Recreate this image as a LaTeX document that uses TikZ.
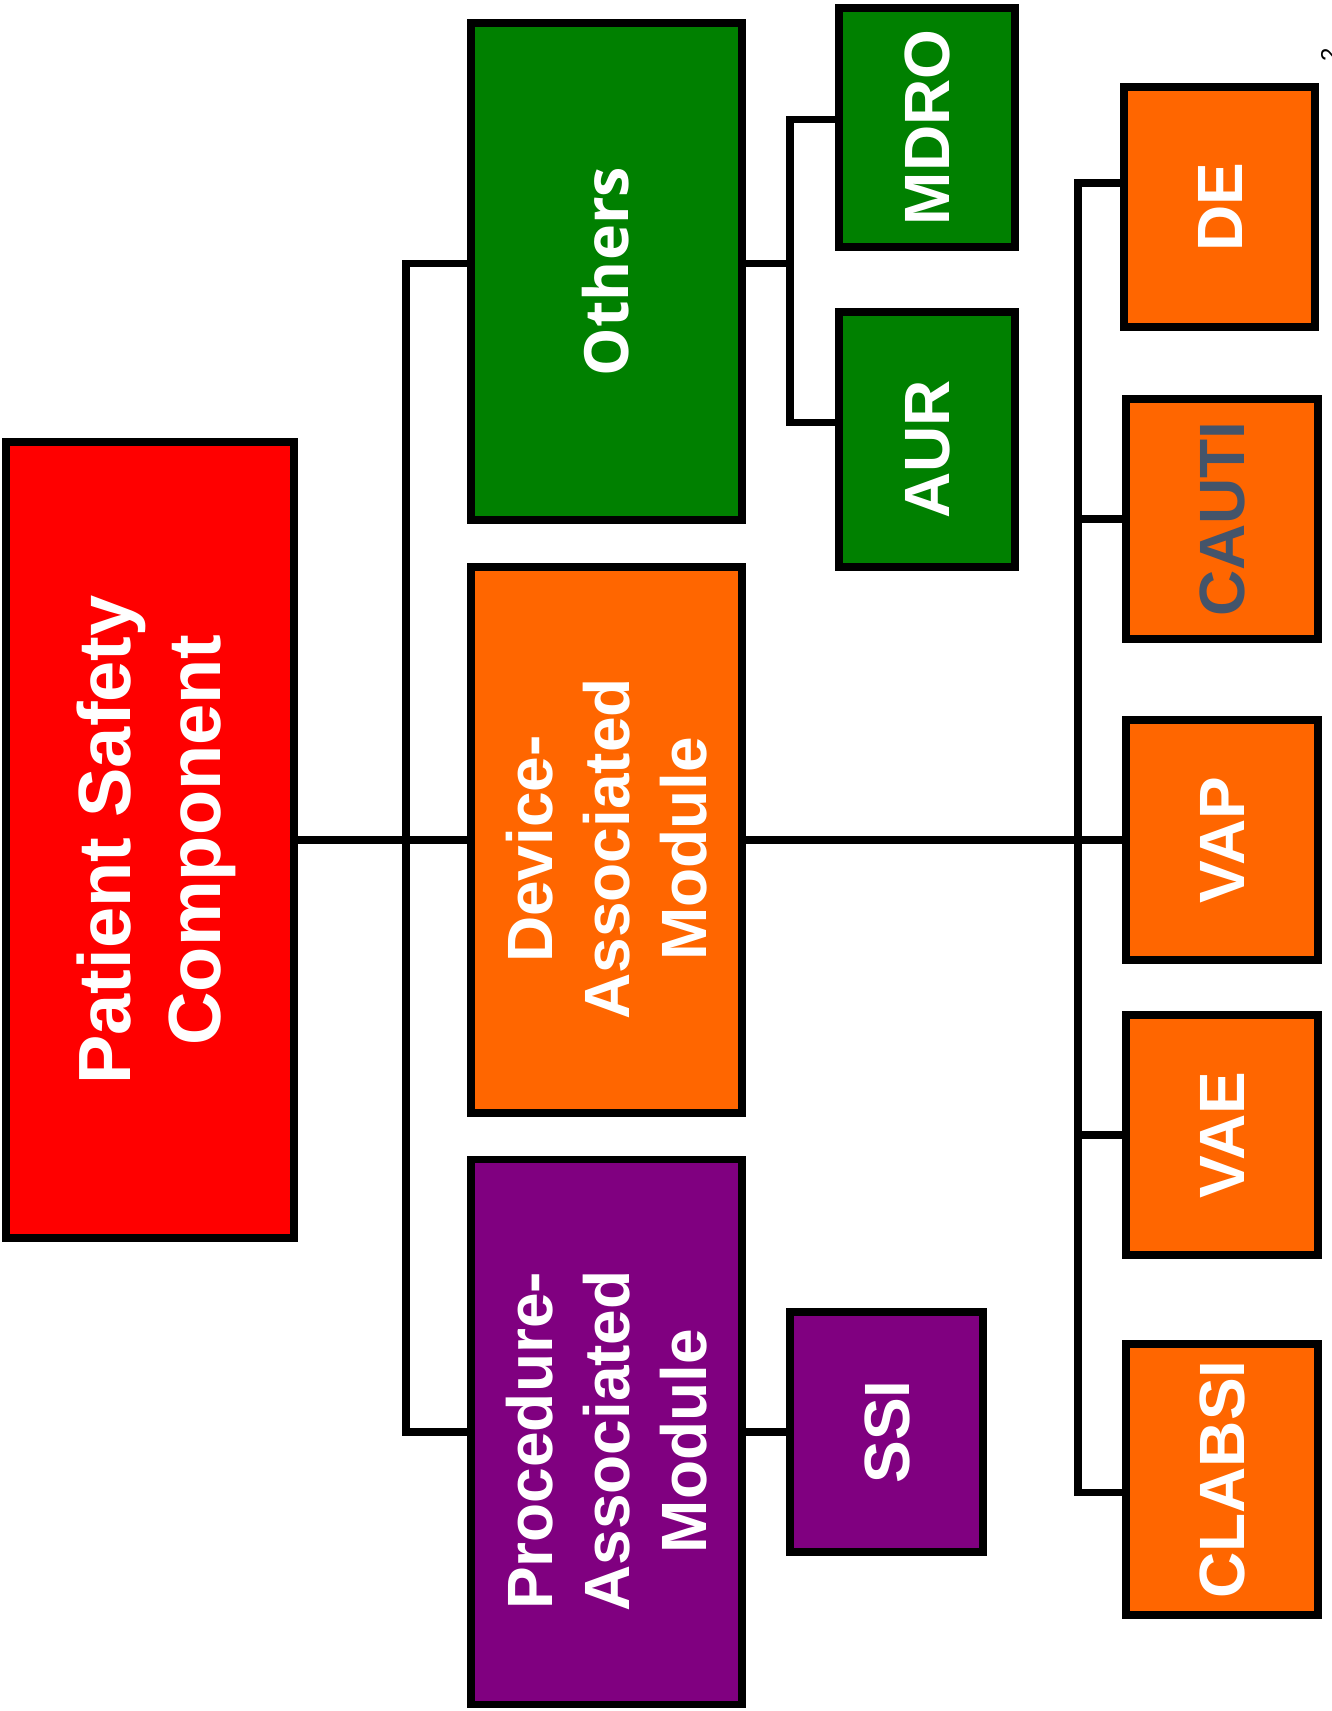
\documentclass[tikz,border=0pt]{standalone}
\usepackage{fontspec}
\setmainfont{Liberation Sans}
\newfontfamily\othersfont{Open Sans}
\usepackage[dvipsnames]{xcolor}
\usetikzlibrary{positioning}

\definecolor{pscred}{HTML}{FF0000}
\definecolor{othgreen}{HTML}{008000}
\definecolor{devorange}{HTML}{FF6600}
\definecolor{procpurple}{HTML}{800080}
\definecolor{slategray}{HTML}{44546A}

% rotated label, optional arg pushes it down the page
\newcommand{\vlabel}[2][0pt]{\hspace*{15pt}\rotatebox{90}{\begin{tabular}{@{}c@{}}#2\end{tabular}\hspace*{#1}}}

\begin{document}
\begin{tikzpicture}[x=1pt, y=-1pt,
    box/.style={rectangle, draw, line width=7.5pt, inner sep=0pt, text=white,
        font=\bfseries\fontsize{64}{77}\selectfont},
    link/.style={draw, line width=7.5pt}]
        \useasboundingbox (0,0) rectangle (1331,1711);
        \def\leafw{192}
        \def\leafh{240}

        % root and modules
        \node(psc) [box, fill=pscred, minimum width=288pt, minimum height=796pt,
            font=\bfseries\fontsize{74}{90}\selectfont] at (150,840) {\vlabel{Patient Safety\\Component}};
        \node(others) [box, fill=othgreen, minimum width=271pt, minimum height=497pt,
            font=\othersfont\bfseries\fontsize{61}{73}\selectfont] at (606.5,271.5) {\vlabel{Others}};
        \node(dam) [box, fill=devorange, minimum width=271pt, minimum height=546pt] at (606.5,840) {\vlabel[18pt]{Device-\\Associated\\Module}};
        \node(pam) [box, fill=procpurple, minimum width=271pt, minimum height=545pt] at (606.5,1432) {\vlabel[18pt]{Procedure-\\Associated\\Module}};

        % leaves
        \node(mdro) [box, fill=othgreen, minimum width=176pt, minimum height=239pt] at (927,127.5) {\vlabel{MDRO}};
        \node(aur) [box, fill=othgreen, minimum width=176pt, minimum height=255pt] at (927,439.5) {\vlabel[20pt]{AUR}};
        \node(ssi) [box, fill=procpurple, minimum width=193pt, minimum height=\leafh pt] at (886.5,1432) {\vlabel{SSI}};
        \node(de) [box, fill=devorange, minimum width=191pt, minimum height=\leafh pt] at (1219.5,207) {\vlabel{DE}};
        \node(cauti) [box, fill=devorange, minimum width=\leafw pt, minimum height=\leafh pt, text=slategray] at (1222,519) {\vlabel{CAUTI}};
        \node(vap) [box, fill=devorange, minimum width=\leafw pt, minimum height=\leafh pt] at (1222,840) {\vlabel{VAP}};
        \node(vae) [box, fill=devorange, minimum width=\leafw pt, minimum height=\leafh pt] at (1222,1135) {\vlabel{VAE}};
        \node(clabsi) [box, fill=devorange, minimum width=\leafw pt, minimum height=271pt] at (1222,1479.5) {\vlabel{CLABSI}};

        \node(pgnum) [rotate=90, inner sep=0pt, anchor=north, font=\fontsize{24}{24}\selectfont] at (1321,55) {2};

        % connectors
        \coordinate (lbus) at (406,840);
        \coordinate (obus) at (790,263.5);
        \coordinate (rbus) at (1078,840);
        \draw[link] ([yshift=8pt]others.west) -| (lbus) |- (pam.west);
        \draw[link] (psc.east) -- (dam.west);
        \draw[link] ([yshift=8pt]others.east) -- (obus);
        \draw[link] ([yshift=8pt]mdro.west) -| (obus) |- ([yshift=17pt]aur.west);
        \draw[link] (pam.east) -- (ssi.west);
        \draw[link] (dam.east) -- (vap.west);
        \draw[link] ([yshift=24pt]de.west) -| (rbus) |- ([yshift=-13pt]clabsi.west);
        \draw[link] (cauti.west) -- (cauti.west -| rbus);
        \draw[link] (vae.west) -- (vae.west -| rbus);
    \end{tikzpicture}
\end{document}
